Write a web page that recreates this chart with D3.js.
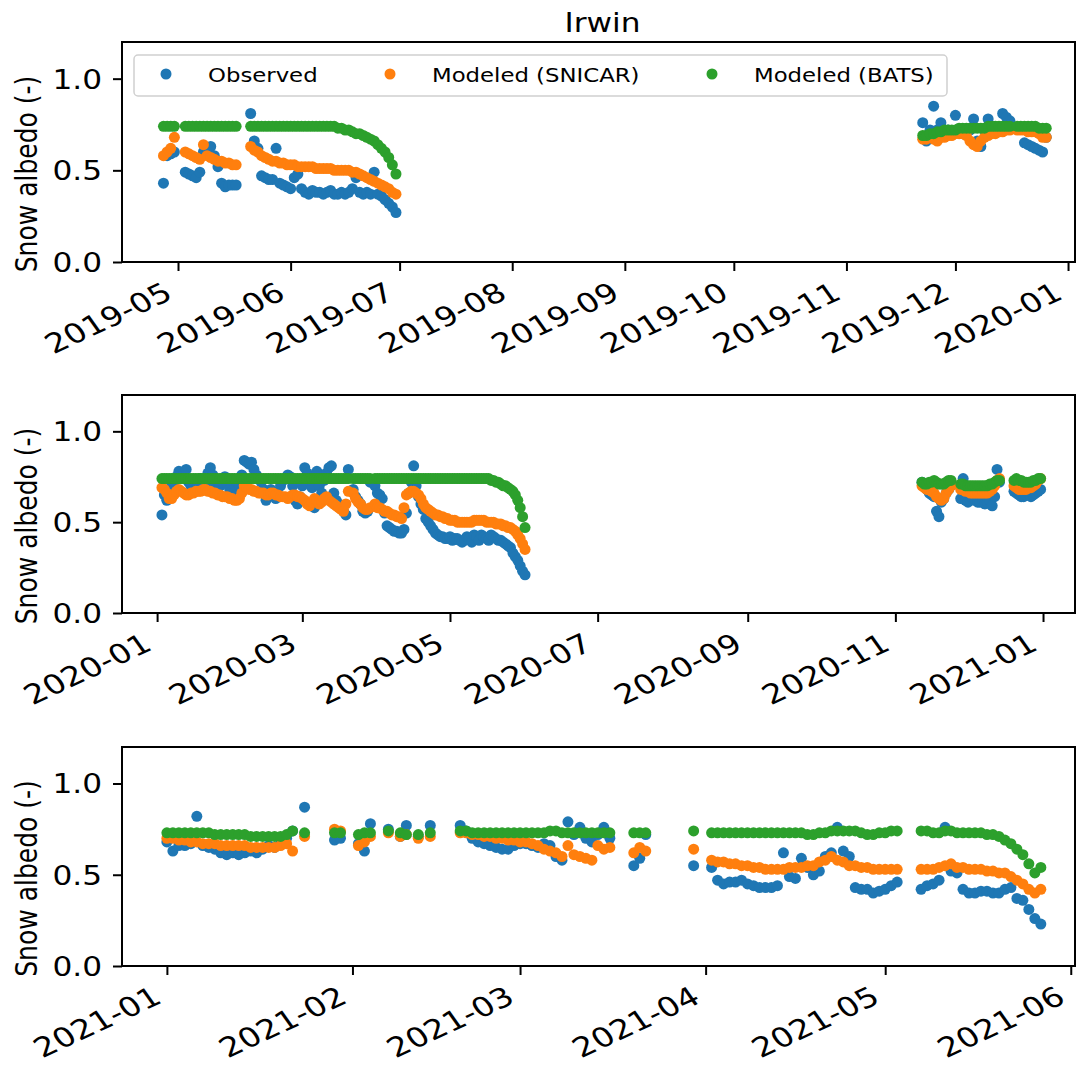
<!DOCTYPE html>
<html>
<head>
<meta charset="utf-8">
<script src="https://cdn.jsdelivr.net/npm/d3@7"></script>
<style>
  body { margin: 0; background: #fff; }
  text { font-family: "DejaVu Sans", sans-serif; fill: #000; }
</style>
</head>
<body>
<svg id="chart" width="1078" height="1078"></svg>
<script>
// ---- Daily snow albedo at Irwin: observed vs. two modeled schemes ----
// Each run is [first day, number of consecutive days]; value arrays follow the runs in order.

const runs2019 = [["2019-04-27", 4], ["2019-05-03", 15], ["2019-05-21", 41], ["2019-11-22", 25], ["2019-12-18", 9]];
const observed2019 = [
  .43, .58, .59, .60,
  .49, .48, .47, .46, .49, .60, .62, .63, .58, .52, .43, .41, .42, .42, .42,
  .81, .66, .62, .47, .46, .45, .45, .62, .43, .42, .41, .40, .46, .48, .40, .38, .37, .39, .38, .38, .37,
  .38, .39, .37, .37, .38, .37, .38, .40, .46, .38, .37, .38, .37, .49, .37, .36, .34, .32, .30, .27,
  .76, .66, .72, .85, .72, .76, .70, .72, .71, .80, .72, .70, .71, .72, .78, .66, .63, .72, .78, .74, .71, .72, .81, .79, .77,
  .73, .73, .65, .64, .63, .62, .61, .60, .68
];
const snicar2019 = [
  .58, .60, .62, .68,
  .60, .59, .58, .57, .56, .64, .58, .57, .56, .55, .55, .54, .54, .53, .53,
  .63, .61, .60, .58, .57, .56, .55, .55, .54, .54, .53, .53, .53, .52, .52, .52, .52, .52, .51, .51, .51,
  .51, .51, .50, .50, .50, .50, .50, .49, .49, .48, .47, .46, .45, .44, .43, .42, .41, .40, .38, .37,
  .67, .67, .68, .67, .66, .68, .68, .69, .69, .70, .70, .70, .69, .66, .64, .63, .66, .68, .69, .70, .70, .71, .71, .72, .72,
  .72, .72, .72, .71, .71, .71, .70, .68, .68
];
const bats2019 = [
  .74, .74, .74, .74,
  .74, .74, .74, .74, .74, .74, .74, .74, .74, .74, .74, .74, .74, .74, .74,
  .74, .74, .74, .74, .74, .74, .74, .74, .74, .74, .74, .74, .74, .74, .74, .74, .74, .74, .74, .74, .74,
  .74, .74, .74, .73, .73, .72, .72, .71, .70, .70, .69, .68, .67, .66, .64, .62, .60, .57, .53, .48,
  .69, .69, .70, .70, .71, .71, .72, .72, .72, .72, .73, .73, .73, .73, .73, .73, .73, .73, .74, .74, .74, .74, .74, .74, .74,
  .74, .74, .74, .74, .74, .74, .73, .73, .73
];

const runs2020 = [["2020-01-03", 78], ["2020-03-22", 8], ["2020-03-31", 63], ["2020-11-12", 13], ["2020-11-28", 17], ["2020-12-20", 12]];
const observed2020 = [
  .54, .65, .62, .68, .70, .72, .75, .78, .76, .77, .79, .72, .70, .73, .68, .70, .74, .73, .71, .77,
  .80, .76, .71, .69, .70, .72, .75, .71, .68, .67, .70, .72, .70, .76, .84, .83, .82, .83, .79, .76,
  .74, .72, .68, .62, .65, .68, .66, .63, .65, .70, .73, .74, .76, .75, .70, .62, .60, .64, .70, .80,
  .77, .72, .69, .58, .78, .70, .66, .73, .77, .80, .81, .66, .62, .60, .58, .56, .54, .79,
  .68, .64, .62, .60, .56, .55, .56, .72,
  .70, .66, .65, .63, .55, .48, .47, .46, .45, .45, .44, .44, .46, .55, .66, .72, .81, .70, .64, .60,
  .57, .52, .50, .48, .46, .44, .43, .42, .42, .41, .41, .42, .40, .41, .41, .40, .39, .40, .42, .41,
  .39, .43, .42, .40, .43, .42, .41, .40, .43, .42, .41, .40, .40, .39, .38, .37, .36, .33, .31, .29,
  .26, .23, .21,
  .72, .70, .68, .66, .65, .64, .56, .53, .61, .63, .66, .68, .70,
  .63, .74, .62, .61, .62, .63, .62, .61, .61, .62, .60, .61, .62, .59, .64, .79, .72,
  .67, .66, .65, .64, .64, .65, .66, .64, .65, .66, .67, .68
];
const snicar2020 = [
  .69, .68, .66, .63, .63, .65, .67, .68, .67, .66, .65, .65, .66, .66, .67, .67, .67, .68, .68, .67,
  .67, .66, .66, .65, .65, .64, .64, .64, .63, .63, .62, .62, .63, .66, .70, .69, .68, .68, .67, .67,
  .66, .66, .66, .65, .65, .66, .66, .65, .65, .64, .64, .64, .63, .64, .65, .65, .64, .64, .63, .62,
  .60, .59, .61, .63, .62, .60, .61, .63, .64, .62, .61, .60, .59, .58, .57, .56, .60, .67,
  .66, .63, .61, .60, .58, .57, .57, .58,
  .60, .58, .58, .57, .56, .56, .55, .54, .54, .53, .53, .52, .58, .65, .66, .67, .67, .66, .65, .63,
  .60, .58, .57, .56, .55, .54, .54, .53, .53, .52, .52, .51, .51, .51, .50, .50, .50, .50, .50, .50,
  .50, .51, .51, .51, .51, .51, .50, .50, .50, .50, .49, .49, .49, .48, .48, .47, .47, .46, .45, .43,
  .41, .38, .35,
  .70, .69, .68, .68, .67, .66, .64, .63, .62, .63, .66, .68, .70,
  .68, .68, .67, .67, .66, .66, .66, .66, .66, .66, .66, .66, .67, .68, .70, .73, .74,
  .70, .69, .68, .68, .68, .68, .69, .69, .70, .71, .73, .74
];
const bats2020 = [
  .74, .74, .74, .74, .74, .74, .74, .74, .74, .74, .74, .74, .74, .74, .74, .74, .74, .74, .74, .74,
  .74, .74, .74, .74, .74, .74, .74, .74, .74, .74, .74, .74, .74, .74, .74, .74, .74, .74, .74, .74,
  .74, .74, .74, .74, .74, .74, .74, .74, .74, .74, .74, .74, .74, .74, .74, .74, .74, .74, .74, .74,
  .74, .74, .74, .74, .74, .74, .74, .74, .74, .74, .74, .74, .74, .74, .74, .74, .74, .74,
  .74, .74, .74, .74, .74, .74, .74, .74,
  .74, .74, .74, .74, .74, .74, .74, .74, .74, .74, .74, .74, .74, .74, .74, .74, .74, .74, .74, .74,
  .74, .74, .74, .74, .74, .74, .74, .74, .74, .74, .74, .74, .74, .74, .74, .74, .74, .74, .74, .74,
  .74, .74, .74, .74, .74, .74, .74, .74, .73, .73, .72, .72, .71, .70, .70, .69, .68, .67, .65, .62,
  .58, .53, .47,
  .72, .71, .71, .72, .72, .73, .72, .71, .71, .71, .72, .73, .73,
  .71, .71, .70, .70, .70, .70, .70, .70, .70, .70, .70, .70, .71, .71, .72, .73, .73,
  .73, .74, .73, .73, .72, .72, .72, .72, .73, .73, .74, .74
];

const runs2021 = [["2021-01-01", 22], ["2021-01-24", 1], ["2021-01-29", 2], ["2021-02-02", 3], ["2021-02-07", 1],
  ["2021-02-09", 2], ["2021-02-12", 1], ["2021-02-14", 1], ["2021-02-19", 26], ["2021-03-20", 3], ["2021-03-30", 1],
  ["2021-04-02", 32], ["2021-05-07", 21]];
const observed2021 = [
  .68, .63, .66, .66, .67, .82, .66, .65, .64, .62, .61, .62, .61, .62, .63, .62, .64, .66, .65, .67, .70, .74,
  .87,
  .69, .70,
  .67, .63, .78,
  .75,
  .71, .77,
  .71,
  .77,
  .77, .74, .70, .68, .67, .66, .65, .64, .64, .66, .67, .67, .66, .65, .67, .66, .60, .58, .79, .72, .76, .70, .68, .72, .76, .70,
  .55, .59, .72,
  .55,
  .54, .47, .45, .46, .46, .47, .45, .44, .43, .43, .43, .44, .62, .49, .48, .59, .54, .50, .52, .60, .62, .76, .63, .60, .43, .42, .42, .40, .41, .42, .44, .46,
  .42, .44, .45, .47, .76, .52, .51, .42, .40, .40, .41, .41, .40, .40, .42, .43, .37, .36, .31, .26, .23
];
const snicar2021 = [
  .70, .70, .69, .69, .68, .68, .67, .67, .67, .66, .66, .66, .66, .66, .65, .65, .65, .65, .65, .66, .67, .63,
  .71,
  .75, .74,
  .66, .68, .71,
  .73,
  .71, .72,
  .70,
  .71,
  .73, .73, .72, .72, .71, .71, .70, .70, .69, .69, .68, .68, .67, .66, .64, .63, .62, .60, .66, .61, .60, .59, .58, .66, .64, .65,
  .62, .65, .63,
  .64,
  .58, .57, .57, .56, .56, .55, .55, .54, .54, .53, .53, .53, .53, .54, .54, .54, .55, .55, .57, .58, .60, .58, .57, .55, .55, .54, .54, .53, .53, .53, .53, .53,
  .53, .53, .53, .54, .55, .56, .54, .54, .53, .53, .53, .52, .52, .51, .51, .49, .47, .45, .42, .40, .42
];
const bats2021 = [
  .73, .73, .73, .73, .73, .73, .73, .73, .72, .72, .72, .72, .72, .72, .71, .71, .71, .71, .71, .71, .72, .74,
  .73,
  .73, .73,
  .72, .73, .73,
  .74,
  .73, .72,
  .72,
  .73,
  .74, .74, .73, .73, .73, .73, .73, .73, .73, .73, .73, .73, .73, .73, .73, .74, .74, .73, .73, .73, .73, .73, .73, .73, .73, .73,
  .73, .73, .73,
  .74,
  .73, .73, .73, .73, .73, .73, .73, .73, .73, .73, .73, .73, .73, .73, .73, .73, .72, .72, .73, .73, .74, .74, .74, .74, .74, .73, .72, .72, .73, .73, .74, .74,
  .74, .74, .73, .73, .74, .74, .73, .73, .73, .73, .73, .72, .72, .71, .69, .67, .64, .61, .56, .51, .54
];

// Tick labels (month starts) for each panel
const ticks2019 = ["2019-05", "2019-06", "2019-07", "2019-08", "2019-09", "2019-10", "2019-11", "2019-12", "2020-01"];
const ticks2020 = ["2020-01", "2020-03", "2020-05", "2020-07", "2020-09", "2020-11", "2021-01"];
const ticks2021 = ["2021-01", "2021-02", "2021-03", "2021-04", "2021-05", "2021-06"];
const yTicks = [0, 0.5, 1.0];

const seriesNames = ["Observed", "Modeled (SNICAR)", "Modeled (BATS)"];
const colors = ["#1f77b4", "#ff7f0e", "#2ca02c"];

// ---- layout ----
const W = 1078, H = 1078;
const left = 122, right = 1075;
const dotR = 5.5;
const textStretch = 1.2;   // glyphs are drawn slightly wide
const parseDay = d3.utcParse("%Y-%m-%d");
const parseMonth = d3.utcParse("%Y-%m");
const parseTime = d3.utcParse("%Y-%m-%dT%H:%M");

function expandRuns(runs) {
  const out = [];
  runs.forEach(([start, n]) => {
    const s = parseDay(start);
    for (let i = 0; i < n; i++) out.push(d3.utcDay.offset(s, i));
  });
  return out;
}

const panels = [
  { runs: runs2019, vals: [observed2019, snicar2019, bats2019], ticks: ticks2019,
    domain: ["2019-04-15T14:00", "2020-01-02T22:00"], top: 42, bottom: 262 },
  { runs: runs2020, vals: [observed2020, snicar2020, bats2020], ticks: ticks2020,
    domain: ["2019-12-17T12:00", "2021-01-14T05:00"], top: 395, bottom: 613 },
  { runs: runs2021, vals: [observed2021, snicar2021, bats2021], ticks: ticks2021,
    domain: ["2020-12-24T12:00", "2021-06-01T17:00"], top: 747, bottom: 966 }
];

const svg = d3.select("#chart");
svg.append("rect").attr("width", W).attr("height", H).attr("fill", "#fff");

panels.forEach((p, pi) => {
  const x = d3.scaleUtc().domain(p.domain.map(parseTime)).range([left, right]);
  const y = d3.scaleLinear().domain([0, 1.2]).range([p.bottom, p.top]);
  const dates = expandRuns(p.runs);
  const g = svg.append("g");

  // scatter series, observed drawn first so the models sit on top
  p.vals.forEach((vals, si) => {
    const pts = dates.map((d, i) => ({ d, v: vals[i] })).filter(o => o.v != null);
    g.append("g").selectAll("circle").data(pts).join("circle")
      .attr("cx", o => x(o.d)).attr("cy", o => y(o.v)).attr("r", dotR)
      .attr("fill", colors[si]);
  });

  // frame
  g.append("rect").attr("x", left).attr("y", p.top)
    .attr("width", right - left).attr("height", p.bottom - p.top)
    .attr("fill", "none").attr("stroke", "#000").attr("stroke-width", 2);

  // x axis
  const xa = g.append("g").attr("transform", `translate(0,${p.bottom})`)
    .call(d3.axisBottom(x).tickValues(p.ticks.map(parseMonth))
      .tickFormat(d3.utcFormat("%Y-%m")).tickSize(9).tickPadding(0));
  xa.select(".domain").remove();
  xa.selectAll(".tick line").attr("stroke", "#000").attr("stroke-width", 2);
  xa.selectAll(".tick text")
    .attr("font-size", 27).attr("text-anchor", "end")
    .attr("y", 0).attr("dy", 0)
    .attr("transform", `translate(-4,36) scale(1.24,1) rotate(-30)`);

  // y axis
  const ya = g.append("g").attr("transform", `translate(${left},0)`)
    .call(d3.axisLeft(y).tickValues(yTicks).tickFormat(d3.format(".1f")).tickSize(9).tickPadding(0));
  ya.select(".domain").remove();
  ya.selectAll(".tick line").attr("stroke", "#000").attr("stroke-width", 2);
  ya.selectAll(".tick text").attr("font-size", 26).attr("x", 0).attr("dy", "0.36em")
    .attr("transform", `translate(-20,0) scale(${textStretch},1)`);

  // y label, sitting a little below the panel's middle
  g.append("text")
    .attr("transform", `translate(37,${(p.top + p.bottom) / 2 + 22}) scale(${textStretch},1) rotate(-90)`)
    .attr("text-anchor", "middle").attr("font-size", 25)
    .text("Snow albedo (-)");

  if (pi === 0) {
    // title
    svg.append("text")
      .attr("transform", `translate(${(left + right) / 2 + 4},32) scale(${textStretch},1)`)
      .attr("text-anchor", "middle").attr("font-size", 26).text("Irwin");

    // legend
    const lg = svg.append("g");
    lg.append("rect").attr("x", 134).attr("y", 55).attr("width", 813).attr("height", 41)
      .attr("rx", 4).attr("fill", "#fff").attr("fill-opacity", 0.8)
      .attr("stroke", "#d0d0d0").attr("stroke-width", 1.5);
    const lx = [166, 390, 712];
    seriesNames.forEach((name, i) => {
      lg.append("circle").attr("cx", lx[i]).attr("cy", 74).attr("r", dotR).attr("fill", colors[i]);
      lg.append("text")
        .attr("transform", `translate(${lx[i] + 42},82) scale(${textStretch},1)`)
        .attr("font-size", 19).text(name);
    });
  }
});
</script>
</body>
</html>
